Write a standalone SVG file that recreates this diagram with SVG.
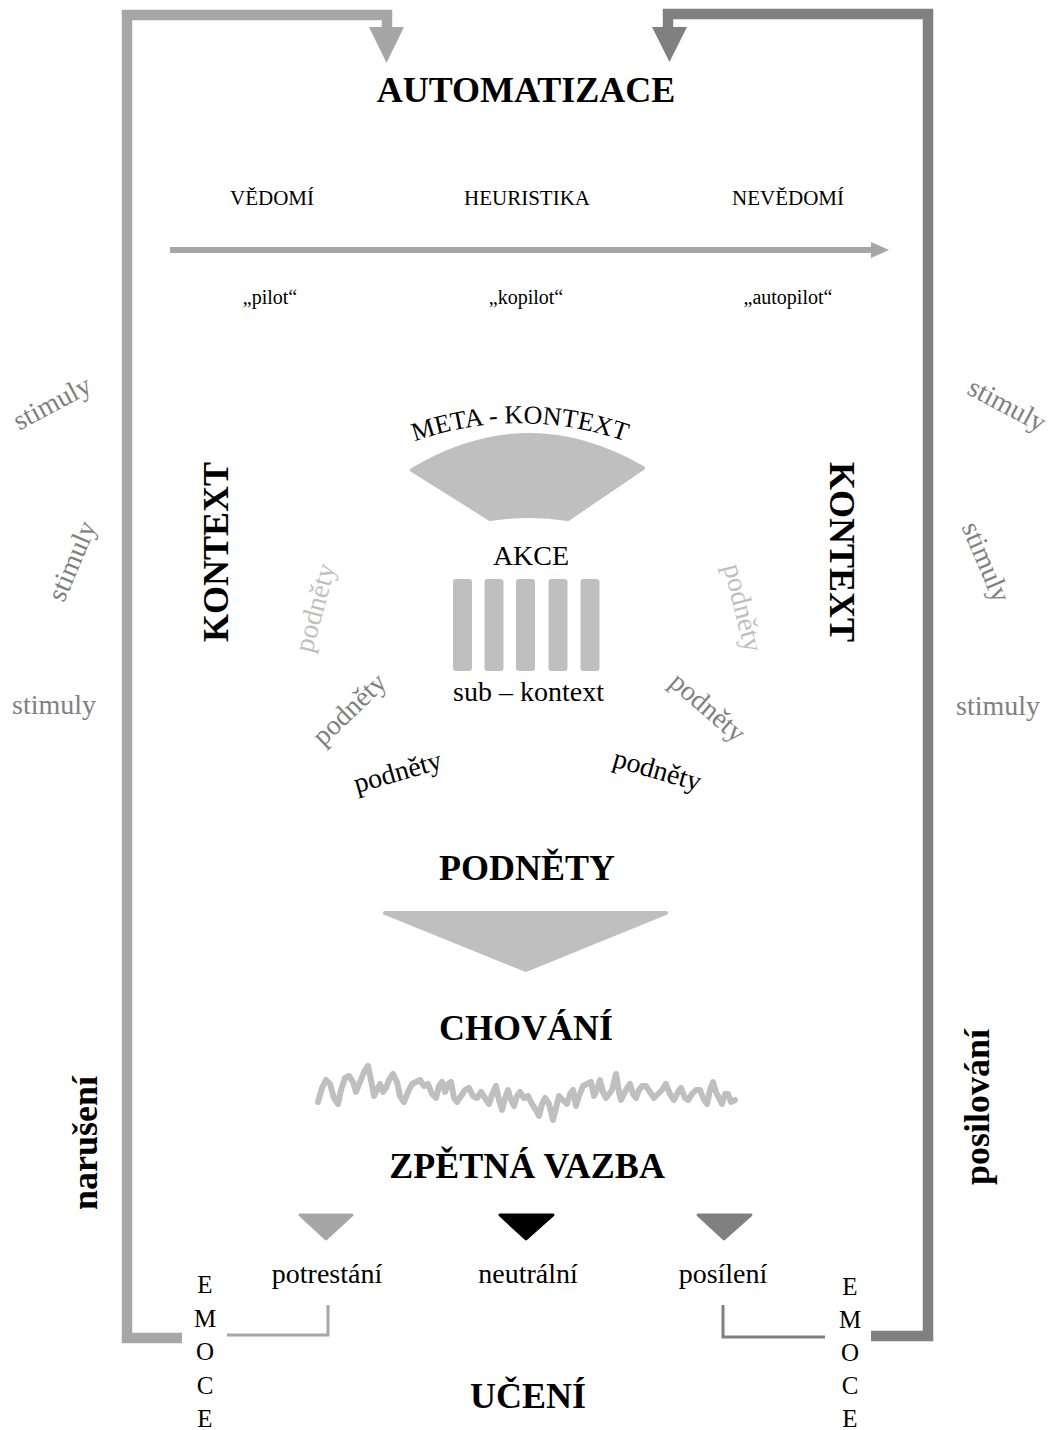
<svg xmlns="http://www.w3.org/2000/svg" width="1053" height="1430" viewBox="0 0 1053 1430">
<style>
text{font-family:"Liberation Serif","Times New Roman",serif;fill:#000}
.t{font-weight:bold;font-size:36px;text-anchor:middle}
.h{font-size:21px;text-anchor:middle}
.p{font-size:20px;text-anchor:middle}
.m{font-size:28px;text-anchor:middle}
.g{fill:#808080}
.l{fill:#bfbfbf}
.e{font-size:25px;text-anchor:middle}
.thick{fill:none;stroke-width:10.5;stroke-linejoin:miter}
.thin{fill:none;stroke-width:3}
.sh{fill:#bfbfbf;stroke:#bfbfbf;stroke-width:4;stroke-linejoin:round}
</style>
<rect width="1053" height="1430" fill="#fff"/>
<defs>
<path id="arc" d="M 380,456 A 316 316 0 0 1 660,456"/>
</defs>
<g id="connectors">
<path class="thick" stroke="#a6a6a6" d="M182,1338 L127,1338 L127,15 L387,15 L387,30"/>
<polygon fill="#a6a6a6" points="369,27 404,27 386.5,63"/>
<path class="thick" stroke="#808080" d="M871,1336 L928,1336 L928,14 L668,14 L668,30"/>
<polygon fill="#808080" points="652,27 687,27 669.5,62"/>
<path class="thin" stroke="#a6a6a6" d="M227,1335 L328,1335 L328,1305"/>
<path class="thin" stroke="#808080" d="M723,1305 L723,1337 L825,1337"/>
<line x1="170" y1="250" x2="875" y2="250" stroke="#a6a6a6" stroke-width="6"/>
<polygon fill="#a6a6a6" points="871,242 889,250 871,258"/>
</g>
<g id="automatizace"><text class="t" x="526" y="102">AUTOMATIZACE</text></g>
<g id="scale">
<text class="h" x="272" y="205">VĚDOMÍ</text>
<text class="h" x="527" y="205">HEURISTIKA</text>
<text class="h" x="788" y="205">NEVĚDOMÍ</text>
<text class="p" x="270" y="304">„pilot“</text>
<text class="p" x="526" y="304">„kopilot“</text>
<text class="p" x="788" y="304">„autopilot“</text>
</g>
<g id="stimuly">
<text class="m g" transform="translate(52,403) rotate(-28)" y="9">stimuly</text>
<text class="m g" transform="translate(72,561) rotate(-67)" y="9">stimuly</text>
<text class="m g" x="54" y="714">stimuly</text>
<text class="m g" transform="translate(1007,405) rotate(28)" y="9">stimuly</text>
<text class="m g" transform="translate(986,562) rotate(67)" y="9">stimuly</text>
<text class="m g" x="998" y="715">stimuly</text>
</g>
<g id="kontext">
<text class="t" transform="translate(228,552) rotate(-90)" font-size="37">KONTEXT</text>
<text class="t" transform="translate(830,552) rotate(90)" font-size="37">KONTEXT</text>
</g>
<g id="meta-kontext">
<path class="sh" d="M412,470 Q527,401 643,468 L568,519 Q529,513 490,519 Z"/>
<text font-size="26" text-anchor="middle"><textPath href="#arc" startOffset="50%">META - KONTEXT</textPath></text>
</g>
<g id="akce">
<text class="m" x="531" y="565" font-size="30">AKCE</text>
<g fill="#bfbfbf">
<rect x="453" y="579" width="19" height="92" rx="3"/>
<rect x="484.5" y="579" width="19" height="92" rx="3"/>
<rect x="516" y="579" width="19" height="92" rx="3"/>
<rect x="548.5" y="579" width="19" height="92" rx="3"/>
<rect x="580.5" y="579" width="19" height="92" rx="3"/>
</g>
<text class="m" x="528.5" y="701">sub – kontext</text>
</g>
<g id="podnety-small">
<text class="m l" transform="translate(316,608) rotate(-75)" y="8">podněty</text>
<text class="m g" transform="translate(350,710) rotate(-44)" y="8">podněty</text>
<text class="m" transform="translate(398,773) rotate(-16)" y="8">podněty</text>
<text class="m l" transform="translate(742,608) rotate(76)" y="8">podněty</text>
<text class="m g" transform="translate(707,708) rotate(41)" y="8">podněty</text>
<text class="m" transform="translate(657,771) rotate(16)" y="8">podněty</text>
</g>
<g id="podnety"><text class="t" x="527" y="880">PODNĚTY</text>
<polygon class="sh" points="385,913 666,913 526,970"/></g>
<g id="chovani"><text class="t" x="526" y="1040">CHOVÁNÍ</text>
<polyline fill="none" stroke="#bfbfbf" stroke-width="6" stroke-linejoin="round" stroke-linecap="round" points="318,1102 322,1088 326,1080 330,1084 334,1098 338,1104 341,1090 345,1078 349,1076 353,1082 356,1092 360,1082 364,1072 368,1066 371,1080 374,1096 377,1090 380,1084 383,1092 386,1088 389,1080 393,1074 397,1082 400,1096 404,1102 408,1092 412,1084 416,1082 420,1080 424,1086 428,1084 432,1094 436,1098 439,1086 442,1082 445,1092 448,1084 451,1082 454,1098 457,1102 461,1096 465,1090 469,1088 473,1096 477,1098 481,1092 485,1098 489,1104 493,1092 496,1086 499,1100 502,1110 505,1098 508,1090 511,1100 514,1106 517,1096 520,1092 524,1098 528,1096 532,1104 536,1110 539,1116 542,1104 545,1098 549,1104 553,1120 556,1108 559,1096 563,1100 567,1104 570,1094 573,1090 576,1106 579,1096 583,1086 587,1084 591,1082 594,1096 597,1090 600,1080 603,1092 606,1098 609,1094 612,1090 616,1074 619,1092 621,1100 624,1094 627,1088 630,1084 633,1094 636,1098 639,1090 642,1086 646,1086 650,1092 654,1098 658,1094 662,1090 666,1084 670,1094 674,1100 678,1092 681,1088 685,1098 688,1100 692,1094 696,1090 700,1090 704,1100 707,1104 710,1090 713,1082 716,1092 719,1098 722,1104 725,1094 728,1094 731,1102 735,1100"/>
</g>
<g id="zpetna-vazba"><text class="t" x="527" y="1178">ZPĚTNÁ VAZBA</text>
<polygon fill="#a6a6a6" stroke="#a6a6a6" stroke-width="3" stroke-linejoin="round" points="300,1215 352,1215 326,1239"/>
<polygon fill="#000" stroke="#000" stroke-width="3" stroke-linejoin="round" points="500,1215 553,1215 526,1239"/>
<polygon fill="#808080" stroke="#808080" stroke-width="3" stroke-linejoin="round" points="698,1215 751,1215 724,1239"/>
</g>
<g id="potrestani"><text class="m" x="327" y="1283">potrestání</text></g>
<g id="neutralni"><text class="m" x="528" y="1283">neutrální</text></g>
<g id="posileni"><text class="m" x="723" y="1283">posílení</text></g>
<g id="emoce-left">
<text class="e" x="205" y="1293">E</text>
<text class="e" x="205" y="1327">M</text>
<text class="e" x="205" y="1360">O</text>
<text class="e" x="205" y="1394">C</text>
<text class="e" x="205" y="1427">E</text>
</g>
<g id="emoce-right">
<text class="e" x="850" y="1295">E</text>
<text class="e" x="850" y="1328">M</text>
<text class="e" x="850" y="1361">O</text>
<text class="e" x="850" y="1394">C</text>
<text class="e" x="850" y="1427">E</text>
</g>
<g id="naruseni"><text class="t" font-size="28" transform="translate(97,1143) rotate(-90)">narušení</text></g>
<g id="posilovani"><text class="t" font-size="28" transform="translate(989,1107) rotate(-90)">posilování</text></g>
<g id="uceni"><text class="t" x="528" y="1408">UČENÍ</text></g>
</svg>
